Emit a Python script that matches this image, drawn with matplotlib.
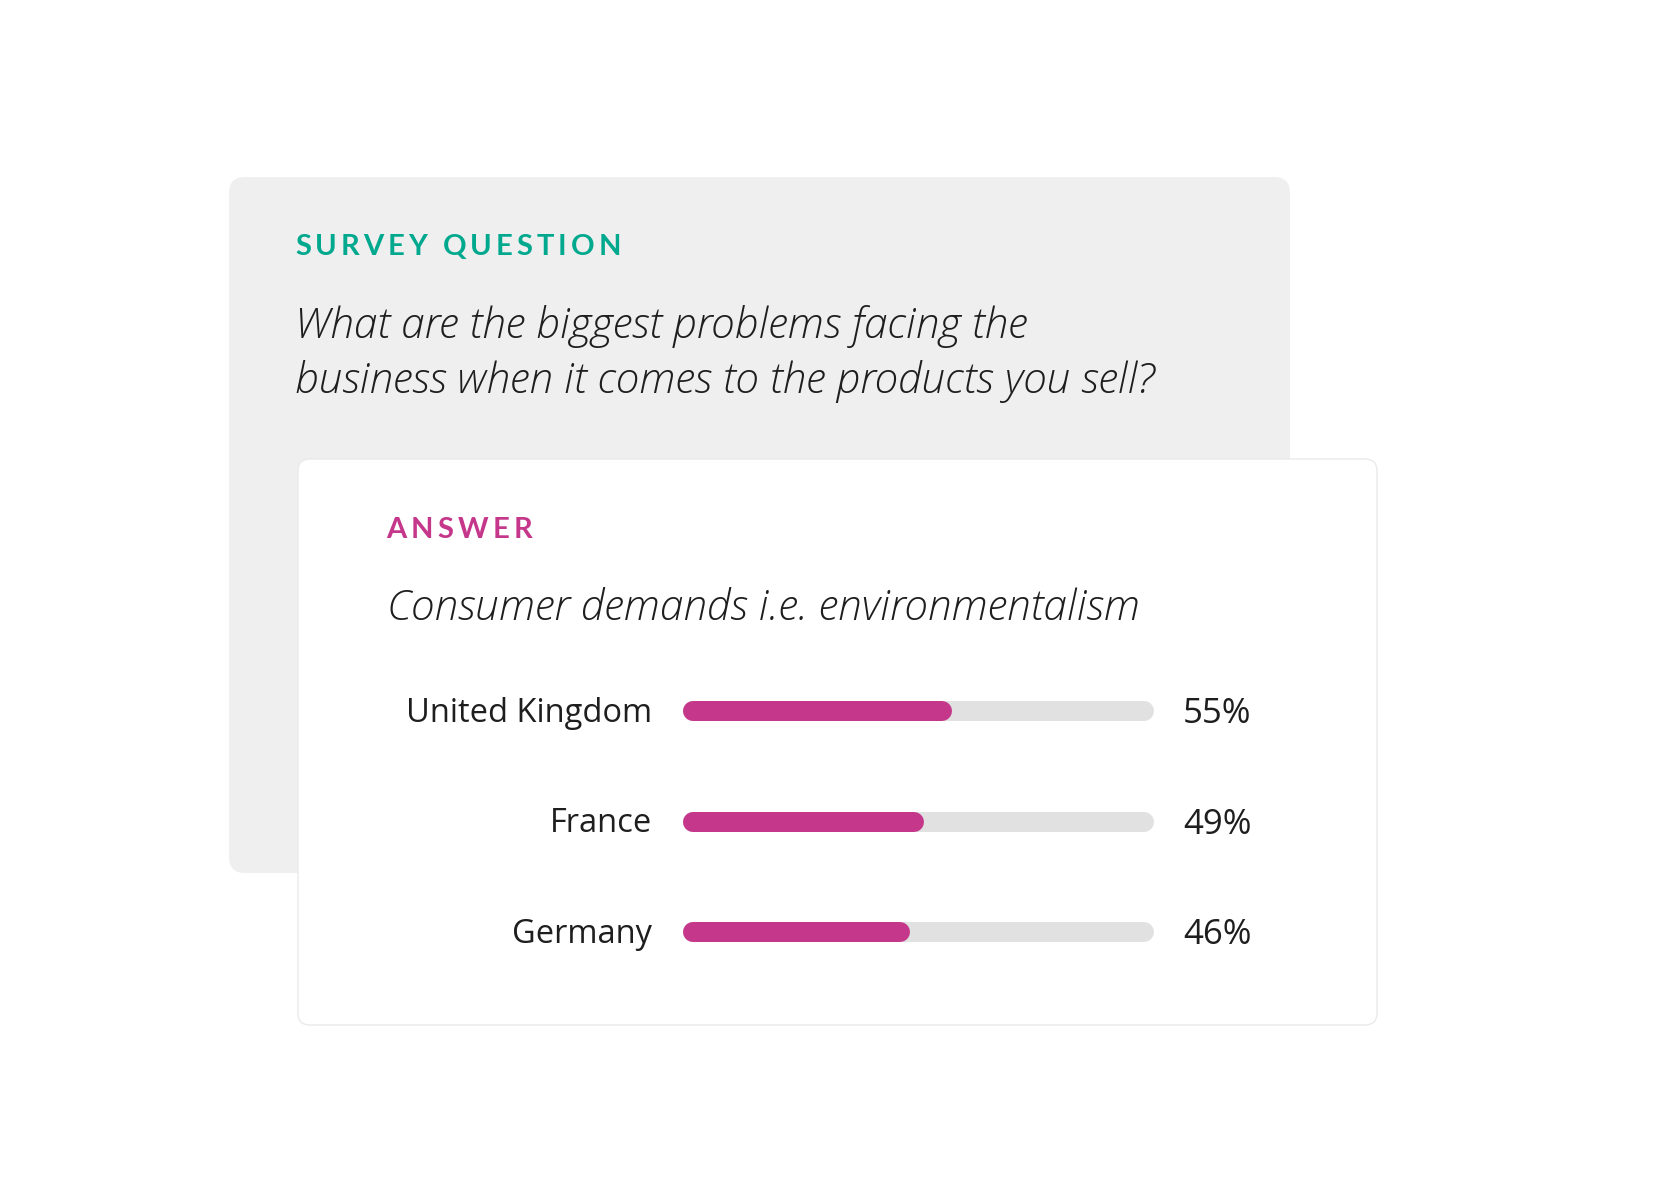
import matplotlib.pyplot as plt
from matplotlib.patches import FancyBboxPatch

# survey data
countries = ["United Kingdom", "France", "Germany"]
shares = [55, 49, 46]
share_labels = ["55%", "49%", "46%"]
question_title = "SURVEY QUESTION"
question_lines = ["What are the biggest problems facing the",
                  "business when it comes to the products you sell?"]
answer_title = "ANSWER"
answer_text = "Consumer demands i.e. environmentalism"

TEAL = "#00A88E"
MAGENTA = "#C5378A"
TRACK = "#E1E1E1"
INK = "#1E1E1E"

plt.rcParams['font.family'] = ['Lato', 'DejaVu Sans']
BODY_FONT = ['Open Sans', 'DejaVu Sans']

W, H = 1665, 1201
fig = plt.figure(figsize=(W / 100, H / 100), dpi=100)
fig.patch.set_facecolor("white")

# background axes in pixel units (y down)
bg = fig.add_axes([0, 0, 1, 1])
bg.set_xlim(0, W)
bg.set_ylim(H, 0)
bg.axis("off")


def card(x0, y0, x1, y1, r, fc, ec, lw=0):
    p = FancyBboxPatch((x0 + r, y0 + r), x1 - x0 - 2 * r, y1 - y0 - 2 * r,
                       boxstyle=f"round,pad={r}", fc=fc, ec=ec, lw=lw)
    bg.add_patch(p)


card(229, 177, 1290, 873, 16, "#EFEFEF", "none")
card(298, 459, 1377, 1025, 12, "white", "#EAEAEA", lw=1.0)

renderer = fig.canvas.get_renderer()


def text_width(s, **kw):
    t = bg.text(0, 0, s + "|", **kw)
    w = t.get_window_extent(renderer).width
    t.remove()
    t = bg.text(0, 0, "|", **kw)
    w -= t.get_window_extent(renderer).width
    t.remove()
    return w


def spaced_text(x, y, s, gap, **kw):
    # matplotlib has no letter spacing, so place glyphs one by one
    for i, ch in enumerate(s):
        w = text_width(s[:i], **kw) if i else 0
        bg.text(x + w + i * gap, y, ch, **kw)


head = dict(fontsize=21, fontweight="bold", va="baseline", ha="left")
spaced_text(295, 255, question_title, 4.0, color=TEAL, **head)
spaced_text(386, 538, answer_title, 4.3, color=MAGENTA, **head)

body = dict(fontsize=30.5, style="italic", fontweight="light", color=INK,
            va="baseline", ha="left", family=BODY_FONT)
for k, line in enumerate(question_lines):
    bg.text(295, 338 + k * 55, line, **body)
bg.text(387, 620, answer_text, **body)

# bar rows
left, right = 683, 1154
top, step = 656, 110.5
bx = fig.add_axes([left / W, 1 - (top + 3 * step) / H,
                   (right - left) / W, 3 * step / H])
bx.set_xlim(0, 100)
bx.set_ylim(len(countries) - 0.5, -0.5)
bx.axis("off")

lw = 20 * 72 / 100
cap = 10 / (right - left) * 100
for i, (c, v, lab) in enumerate(zip(countries, shares, share_labels)):
    bx.plot([cap, 100 - cap], [i, i], color=TRACK, lw=lw,
            solid_capstyle="round")
    bx.plot([cap, v], [i, i], color=MAGENTA, lw=lw, solid_capstyle="round")
    bx.annotate(c, (0, i), xytext=(-31 * 0.72, -10.5 * 0.72),
                textcoords="offset points", ha="right", va="baseline",
                fontsize=23.5, color=INK, annotation_clip=False,
                family=BODY_FONT)
    bx.annotate(lab, (100, i), xytext=(29 * 0.72, -12 * 0.72),
                textcoords="offset points", ha="left", va="baseline",
                fontsize=25, color=INK, annotation_clip=False,
                family=BODY_FONT)

fig.savefig("out.png", dpi=100, facecolor="white")
